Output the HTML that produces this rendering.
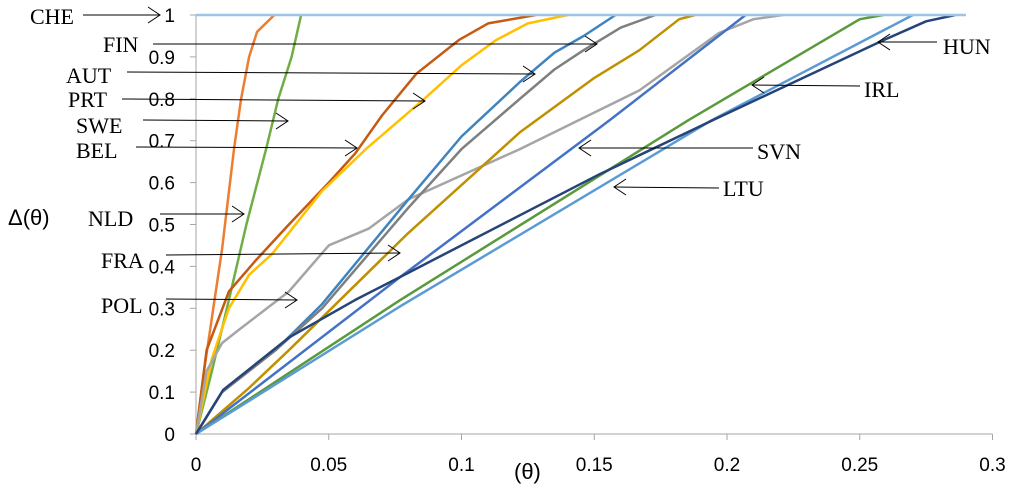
<!DOCTYPE html>
<html><head><meta charset="utf-8"><style>
html,body{margin:0;padding:0;background:#fff;}
svg{display:block;}
.tk{font-family:"Liberation Sans",sans-serif;font-size:19px;fill:#000;}
.tt{font-family:"Liberation Sans",sans-serif;font-size:22px;fill:#000;}
.an{font-family:"Liberation Serif",serif;font-size:22px;fill:#000;}
</style></head><body>
<svg id="chart" width="1024" height="491" viewBox="0 0 1024 491">
<g id="axes"></g><g id="series"></g><g id="annot"></g>
</svg>
<script>
const xTicks=[0,0.05,0.1,0.15,0.2,0.25,0.3];
const xTickLabels=["0","0.05","0.1","0.15","0.2","0.25","0.3"];
const yTicks=[0,0.1,0.2,0.3,0.4,0.5,0.6,0.7,0.8,0.9,1];
const yTickLabels=["0","0.1","0.2","0.3","0.4","0.5","0.6","0.7","0.8","0.9","1"];
const seriesNames=["CHE","NLD","BEL","PRT","POL","FIN","AUT","FRA","SVN","IRL","LTU","HUN"];
const seriesColors=["#ED7D31","#70AD47","#C55A11","#FFC000","#A5A5A5","#3F83BF","#7F7F7F","#BF9000","#4472C4","#5A9A3C","#5B9BD5","#264478"];
const cheX=[0,0.003,0.0065,0.0098,0.0143,0.017,0.02,0.023,0.0295];
const cheY=[0,0.15,0.3,0.44,0.68,0.8,0.9,0.96,1];
const nldX=[0,0.006,0.0124,0.019,0.0264,0.031,0.036,0.0396];
const nldY=[0,0.15,0.32,0.5,0.68,0.8,0.9,1];
const belX=[0,0.004,0.0124,0.0226,0.035,0.05,0.06,0.07,0.083,0.099,0.11,0.128];
const belY=[0,0.2,0.34,0.415,0.5,0.6,0.67,0.76,0.86,0.94,0.98,1];
const prtX=[0,0.006,0.0124,0.02,0.0287,0.0475,0.064,0.086,0.1,0.113,0.125,0.14];
const prtY=[0,0.18,0.3,0.38,0.43,0.58,0.68,0.8,0.88,0.94,0.98,1];
const polX=[0,0.004,0.0098,0.016,0.035,0.05,0.065,0.08,0.122,0.167,0.197,0.21,0.221];
const polY=[0,0.15,0.217,0.248,0.34,0.45,0.49,0.56,0.68,0.82,0.957,0.99,1];
const finX=[0,0.0098,0.03,0.0475,0.08,0.1,0.122,0.135,0.146,0.158];
const finY=[0,0.1,0.2,0.31,0.56,0.71,0.84,0.91,0.95,1];
const autX=[0,0.0098,0.03,0.0475,0.08,0.1,0.122,0.135,0.146,0.16,0.173];
const autY=[0,0.1,0.2,0.3,0.54,0.68,0.8,0.87,0.916,0.97,1];
const fraX=[0,0.02,0.035,0.08,0.122,0.15,0.167,0.182,0.188];
const fraY=[0,0.11,0.2,0.48,0.72,0.85,0.916,0.99,1];
const svnX=[0,0.077,0.156,0.207];
const svnY=[0,0.375,0.75,1];
const irlX=[0,0.077,0.1857,0.25,0.259];
const irlY=[0,0.32,0.75,0.99,1];
const ltuX=[0,0.077,0.1945,0.27];
const ltuY=[0,0.305,0.75,1];
const hunX=[0,0.0102,0.035,0.06,0.08,0.152,0.195,0.259,0.275,0.286];
const hunY=[0,0.105,0.23,0.32,0.385,0.62,0.75,0.94,0.985,1];
const seriesX=[cheX,nldX,belX,prtX,polX,finX,autX,fraX,svnX,irlX,ltuX,hunX];
const seriesY=[cheY,nldY,belY,prtY,polY,finY,autY,fraY,svnY,irlY,ltuY,hunY];

const X0=196,XS=2655,Y0=434,YS=419;
function sx(v){return X0+v*XS;}
function sy(v){return Y0-v*YS;}
const NS="http://www.w3.org/2000/svg";
function mk(tag,attrs,parent,text){const e=document.createElementNS(NS,tag);for(const k in attrs)e.setAttribute(k,attrs[k]);if(text!==undefined)e.textContent=text;parent.appendChild(e);return e;}
const axesG=document.getElementById('axes'),serG=document.getElementById('series'),annG=document.getElementById('annot');

const ya=mk('line',{x1:sx(0),y1:sy(0),x2:sx(0),y2:sy(1),stroke:'#A6A6A6','stroke-width':1},axesG);


const xa=mk('line',{x1:sx(0),y1:sy(0),x2:sx(0.3),y2:sy(0),stroke:'#A6A6A6','stroke-width':1},axesG);


yTicks.forEach((v,i)=>{
  mk('line',{x1:sx(0)-6,y1:sy(v),x2:sx(0),y2:sy(v),stroke:'#A6A6A6'},axesG);
  const t=mk('text',{x:sx(0)-21,y:sy(v)+7,'text-anchor':'end',class:'tk'},axesG,yTickLabels[i]);
  
  
});
xTicks.forEach((v,i)=>{
  mk('line',{x1:sx(v),y1:sy(0),x2:sx(v),y2:sy(0)+6,stroke:'#A6A6A6'},axesG);
  const t=mk('text',{x:sx(v),y:471,'text-anchor':'middle',class:'tk'},axesG,xTickLabels[i]);
  
  
});
const yt=mk('text',{x:8,y:225,class:'tt'},axesG,'Δ(θ)');


const xt=mk('text',{x:514,y:479,class:'tt'},axesG,'(θ)');



seriesNames.forEach((n,i)=>{
  const xs=seriesX[i],ys=seriesY[i];
  let d='';
  for(let k=0;k<xs.length;k++)d+=(k?'L':'M')+sx(xs[k]).toFixed(1)+','+sy(ys[k]).toFixed(1);
  const p=mk('path',{d:d,fill:'none',stroke:seriesColors[i],'stroke-width':2.5,'stroke-linejoin':'round'},serG);
  
  
});
const plateau=mk('line',{x1:sx(0),y1:sy(1),x2:sx(0.29),y2:sy(1),stroke:'#9DC3E6','stroke-width':2.5},serG);



const annots=[
 ["CHE",30,24,83,15,160,15],["FIN",103,52,153,44,597,44],["AUT",66,83,127,72,535,74],
 ["PRT",68,107,122,99,425,101],["SWE",76,133,143,120,288,121],["BEL",76,158,136,147,357,148],
 ["NLD",88,226,160,214,244,214],["FRA",101,268,166,255,400,253],["POL",101,313,166,299,297,300],
 ["HUN",943,54,937,42,878,42],["IRL",864,97,860,86,752,85],["SVN",757,159,753,148,579,148],["LTU",723,196,719,188,614,187]
];
annots.forEach(a=>{
  const g=mk('g',{},annG);
  
  
  mk('text',{x:a[1],y:a[2],class:'an'},g,a[0]);
  mk('line',{x1:a[3],y1:a[4],x2:a[5],y2:a[6],stroke:'#000','stroke-width':1},g);
  const dir=a[5]>a[3]?-1:1;
  mk('path',{d:`M${a[5]+dir*12},${a[6]-8}L${a[5]},${a[6]}L${a[5]+dir*12},${a[6]+8}`,fill:'none',stroke:'#000','stroke-width':1},g);
});
</script>
</body></html>
